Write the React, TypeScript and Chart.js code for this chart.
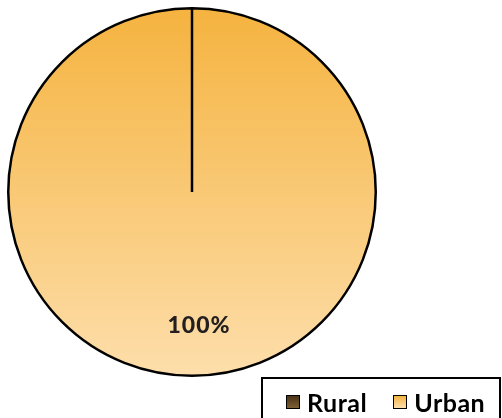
import React, { useEffect, useRef } from "react";
import { Chart, registerables } from "chart.js";

Chart.register(...registerables);

const categories = ["Rural", "Urban"];
const values = [0, 100];
const percentLabels = ["0%", "100%"];
const topColors = ["#4a3416", "#f5b33f"];
const bottomColors = ["#7d5f33", "#fddeab"];

const labelPlugin = {
  id: "pctLabels",
  afterDatasetsDraw(chart: any) {
    const ctx = chart.ctx;
    const meta = chart.getDatasetMeta(0);
    meta.data.forEach((arc: any, i: number) => {
      if (!values[i]) return;
      const { x, y, startAngle, endAngle, outerRadius } = arc.getProps(
        ["x", "y", "startAngle", "endAngle", "outerRadius"],
        true
      );
      const mid = (startAngle + endAngle) / 2;
      const r = outerRadius * 0.72;
      ctx.save();
      ctx.font = "900 23px Lato, 'Open Sans', sans-serif";
      (ctx as any).letterSpacing = "1px";
      ctx.fillStyle = "#231f20";
      ctx.textAlign = "center";
      ctx.textBaseline = "middle";
      ctx.fillText(percentLabels[i], x + Math.cos(mid) * r + 7, y + Math.sin(mid) * r + 1);
      ctx.restore();
    });
  },
};

export default function App() {
  const ref = useRef<HTMLCanvasElement>(null);
  useEffect(() => {
    document.body.style.margin = "0";
    const canvas = ref.current!;
    const chart = new Chart(canvas, {
      type: "pie",
      data: {
        labels: categories,
        datasets: [
          {
            data: values,
            backgroundColor: (c: any) => {
              const ch = c.chart;
              const area = ch.chartArea;
              if (!area) return topColors[c.dataIndex];
              const g = ch.ctx.createLinearGradient(0, area.top, 0, area.bottom);
              g.addColorStop(0, topColors[c.dataIndex]);
              g.addColorStop(1, bottomColors[c.dataIndex]);
              return g;
            },
            borderColor: "#000000",
            borderWidth: 2.5,
          },
        ],
      },
      options: {
        animation: false,
        responsive: false,
        maintainAspectRatio: false,
        layout: { padding: { left: 7, top: 7, right: 125, bottom: 41 } },
        plugins: {
          legend: { display: false },
          tooltip: { enabled: false },
        },
      },
      plugins: [labelPlugin],
    });
    return () => chart.destroy();
  }, []);

  const sq = (i: number) => ({
    display: "inline-block",
    width: 14,
    height: 14,
    border: "1.5px solid #000",
    boxSizing: "border-box" as const,
    background: `linear-gradient(${topColors[i]}, ${bottomColors[i]})`,
    marginRight: 7,
  });

  return (
    <div style={{ position: "absolute", left: 0, top: 0, width: 502, height: 418, background: "#fff", overflow: "hidden" }}>
      <canvas ref={ref} width={502} height={418} style={{ position: "absolute", left: 0, top: 0 }} />
      <div
        style={{
          position: "absolute",
          left: 261,
          top: 377,
          width: 240,
          height: 60,
          border: "2px solid #000",
          boxSizing: "border-box",
          fontFamily: "Lato, 'Open Sans', sans-serif",
          fontWeight: 700,
          fontSize: 25,
          color: "#000",
          whiteSpace: "nowrap",
        }}
      >
        <div style={{ position: "absolute", left: 23, top: 8, height: 30, display: "flex", alignItems: "center" }}>
          <span style={sq(0)} />
          <span style={{ marginRight: 26, letterSpacing: 0.5 }}>{categories[0]}</span>
          <span style={sq(1)} />
          <span style={{ letterSpacing: 0.5 }}>{categories[1]}</span>
        </div>
      </div>
    </div>
  );
}
